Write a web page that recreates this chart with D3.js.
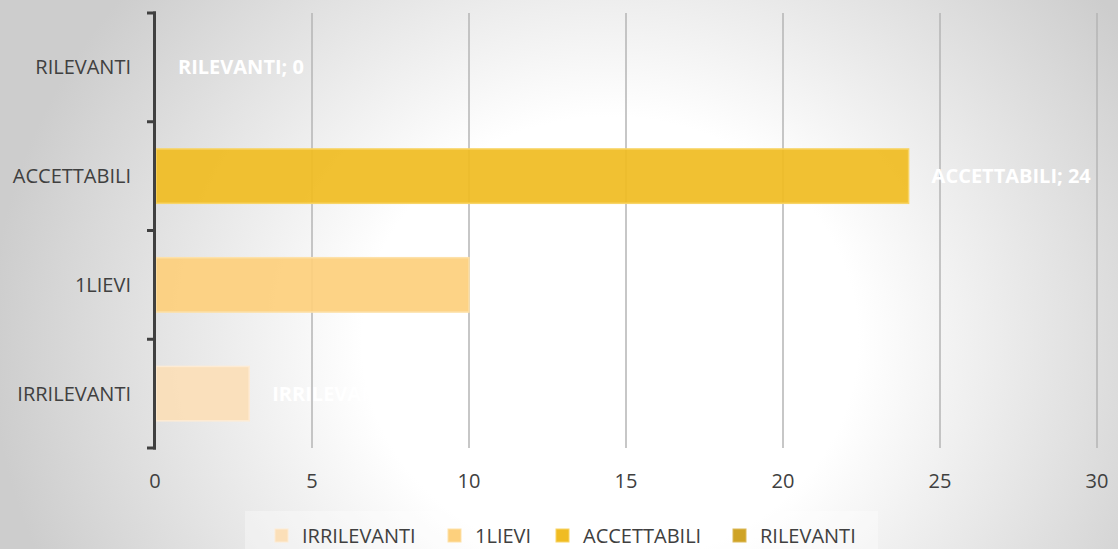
<!DOCTYPE html>
<html>
<head>
<meta charset="utf-8">
<script src="https://cdn.jsdelivr.net/npm/d3@7"></script>
<style>
  html, body { margin: 0; padding: 0; }
  svg { display: block; font-family: "Open Sans", sans-serif; }
</style>
</head>
<body>
<svg id="chart" width="1118" height="549"></svg>
<script>
// Data
const categories = ["RILEVANTI", "ACCETTABILI", "1LIEVI", "IRRILEVANTI"]; // top to bottom
const values = [0, 24, 10, 3];
const xTicks = [0, 5, 10, 15, 20, 25, 30];
const legendItems = ["IRRILEVANTI", "1LIEVI", "ACCETTABILI", "RILEVANTI"];
const colorMap = {
  "IRRILEVANTI": "#fbdfb8",
  "1LIEVI": "#fdd07d",
  "ACCETTABILI": "#f0bc22",
  "RILEVANTI": "#cfa325"
};
const strokeMap = {
  "IRRILEVANTI": "#fdebd4",
  "1LIEVI": "#fde1a9",
  "ACCETTABILI": "#f8d466",
  "RILEVANTI": "#dcb95a"
};

const W = 1118, H = 549;
const svg = d3.select("#chart");

// Background radial gradient
const defs = svg.append("defs");
const grad = defs.append("radialGradient")
  .attr("id", "bg").attr("gradientUnits", "userSpaceOnUse")
  .attr("cx", 610).attr("cy", 340).attr("r", 620)
  .attr("gradientTransform", "translate(610,340) scale(1,0.9) translate(-610,-340)");
grad.append("stop").attr("offset", "0%").attr("stop-color", "#ffffff");
grad.append("stop").attr("offset", "40%").attr("stop-color", "#ffffff");
grad.append("stop").attr("offset", "100%").attr("stop-color", "#cdcdcd");
svg.append("rect").attr("width", W).attr("height", H).attr("fill", "url(#bg)");

const x = d3.scaleLinear().domain([0, 30]).range([155, 1097]);
const y = d3.scaleBand().domain(categories).range([13, 448]).paddingInner(0.5).paddingOuter(0.25);
const plotTop = 13, plotBottom = 448;

// Gridlines
svg.append("g").selectAll("line").data(xTicks.filter(d => d > 0)).join("line")
  .attr("x1", d => x(d)).attr("x2", d => x(d))
  .attr("y1", plotTop).attr("y2", plotBottom)
  .attr("stroke", "#b4b4b4").attr("stroke-width", 1.5);

// Bars
const data = categories.map((c, i) => ({cat: c, v: values[i]}));
svg.append("g").selectAll("rect").data(data.filter(d => d.v > 0)).join("rect")
  .attr("x", x(0) + 1).attr("y", d => y(d.cat))
  .attr("width", d => x(d.v) - x(0) - 1).attr("height", y.bandwidth())
  .attr("fill", d => colorMap[d.cat]).attr("fill-opacity", 0.93)
  .attr("stroke", d => strokeMap[d.cat]).attr("stroke-width", 1.5);

// Y axis
const yAxisG = svg.append("g");
yAxisG.append("line").attr("x1", 154.5).attr("x2", 154.5).attr("y1", plotTop - 1.5).attr("y2", plotBottom + 1.5)
  .attr("stroke", "#404040").attr("stroke-width", 3);
const bounds = [plotTop].concat(categories.map(c => y(c) + y.bandwidth() + y.step() * 0.25));
yAxisG.selectAll("line.tk").data(bounds).join("line").attr("class", "tk")
  .attr("x1", 147).attr("x2", 156).attr("y1", d => d).attr("y2", d => d)
  .attr("stroke", "#404040").attr("stroke-width", 3);

// Category labels
svg.append("g").selectAll("text").data(categories).join("text")
  .attr("x", 131).attr("y", d => y(d) + y.bandwidth() / 2)
  .attr("dy", "0.35em").attr("text-anchor", "end")
  .attr("font-size", 20).attr("fill", "#404040").text(d => d);

// X tick labels
svg.append("g").selectAll("text").data(xTicks).join("text")
  .attr("x", d => x(d)).attr("y", 481).attr("dy", "0.35em")
  .attr("text-anchor", "middle").attr("font-size", 20).attr("fill", "#404040")
  .text(d => d);

// Data labels
svg.append("g").selectAll("text").data(data).join("text")
  .attr("x", d => x(d.v) + 23).attr("y", d => y(d.cat) + y.bandwidth() / 2)
  .attr("dy", "0.35em").attr("font-size", 20).attr("font-weight", "bold")
  .attr("fill", "#ffffff").text(d => d.cat + "; " + d.v);

// Legend
const lg = svg.append("g");
lg.append("rect").attr("x", 245).attr("y", 511).attr("width", 633).attr("height", 40)
  .attr("fill", "#ffffff").attr("fill-opacity", 0.35);
const legendX = [275, 448, 556, 733];
legendItems.forEach((name, i) => {
  lg.append("rect").attr("x", legendX[i]).attr("y", 529).attr("width", 13).attr("height", 13)
    .attr("fill", colorMap[name]).attr("stroke", strokeMap[name]).attr("stroke-width", 1);
  lg.append("text").attr("x", legendX[i] + 27).attr("y", 535.5).attr("dy", "0.35em")
    .attr("font-size", 20).attr("fill", "#404040").text(name);
});
</script>
</body>
</html>
